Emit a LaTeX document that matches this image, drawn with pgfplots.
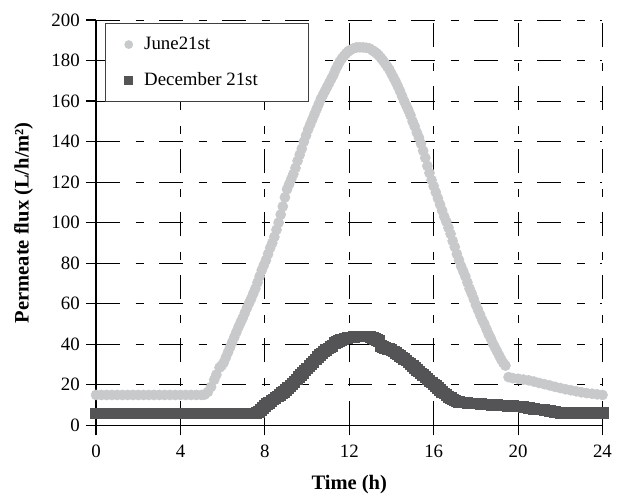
\documentclass[border=0pt]{standalone}
\usepackage{fontspec}
\setmainfont{Liberation Serif}
\usepackage{pgfplots}
\pgfplotsset{compat=1.18}
\definecolor{junec}{HTML}{C8C9CB}
\definecolor{decc}{HTML}{545456}

\pgfplotstableread{
x y
0 15
0.25 15
0.5 15
0.75 15
1 15
1.25 15
1.5 15
1.75 15
2 15
2.25 15
2.5 15
2.75 15
3 15
3.25 15
3.5 15
3.75 15
4 15
4.25 15
4.5 15
4.75 15
5 15
5.15 15.2
5.3 16.5
5.45 19
5.6 22.5
5.7 25
5.85 28.5
5.95 29.5
6.05 31
6.15 33.5
6.25 36
6.35 38.5
6.45 41
6.55 43.5
6.65 46
6.75 48.5
6.85 50.8
6.95 53
7.05 55.5
7.15 58
7.25 60.3
7.35 62.5
7.45 65
7.55 67.5
7.65 70.5
7.75 73.5
7.85 76.5
7.95 79
8.05 81.5
8.15 84.5
8.25 87.5
8.35 90
8.45 93
8.55 96.5
8.65 100
8.75 104
8.85 108
8.95 112.5
9.05 116.5
9.15 119
9.25 121.5
9.35 124
9.45 127
9.55 130.5
9.65 133.5
9.75 136.5
9.85 140
9.95 143
10.05 146
10.15 148.5
10.25 151
10.35 153.5
10.45 156
10.55 158.5
10.65 161
10.75 163
10.85 165
10.95 167
11.05 169
11.15 171
11.25 173
11.35 175.5
11.45 177.5
11.55 179.5
11.65 181
11.75 182.3
11.85 183.5
11.95 184.5
12.05 185.2
12.2 186
12.35 186.5
12.5 186.5
12.65 186.5
12.8 186.3
12.95 186
13.1 185
13.2 184.3
13.3 183.5
13.4 182.5
13.5 181.3
13.6 180
13.7 178.5
13.8 177
13.9 175.5
14.0 173.5
14.1 171.5
14.2 169.5
14.3 167.3
14.4 165
14.5 162.5
14.6 160
14.7 157.8
14.8 155.5
14.9 153
15.0 150
15.1 147.5
15.2 144.5
15.3 142
15.4 139
15.5 135.5
15.6 132
15.7 128
15.8 124.5
15.9 121
16.0 118
16.1 115
16.2 112
16.3 109
16.4 106
16.5 103
16.6 100.5
16.7 97.5
16.8 94.5
16.9 91
17.0 88
17.1 84.5
17.2 81.5
17.3 78.5
17.4 76
17.5 73.5
17.6 70.5
17.7 67.5
17.8 65
17.9 62.3
18.0 59.5
18.1 57
18.2 54.5
18.3 52
18.4 50
18.5 47.5
18.6 45
18.7 43
18.8 40.5
18.9 38.5
19.0 36.5
19.1 34.5
19.2 32.5
19.3 30.8
19.4 29.5
19.55 23.8
19.75 23.3
20.0 23
20.25 22.6
20.5 22.2
20.75 21.6
21.0 20.9
21.25 20.3
21.5 19.7
21.75 19.0
22.0 18.4
22.25 17.8
22.5 17.3
22.75 16.8
23.0 16.3
23.25 15.9
23.5 15.6
23.75 15.3
24.0 15.0
}\junedata

\pgfplotstableread{
x y
0 6
0.25 6
0.5 6
0.75 6
1 6
1.25 6
1.5 6
1.75 6
2 6
2.25 6
2.5 6
2.75 6
3 6
3.25 6
3.5 6
3.75 6
4 6
4.25 6
4.5 6
4.75 6
5 6
5.25 6
5.5 6
5.75 6
6 6
6.25 6
6.5 6
6.75 6
7 6
7.25 6
7.5 6
7.6 6.3
7.7 6.8
7.8 7.6
7.9 8.6
8.0 9.7
8.1 10.5
8.2 11.2
8.3 12
8.4 12.8
8.5 13.6
8.6 14.3
8.7 15.1
8.8 15.9
8.9 16.7
9.0 17.6
9.1 18.6
9.2 19.6
9.3 20.6
9.4 21.6
9.5 22.7
9.6 23.8
9.7 24.9
9.8 26
9.9 27.1
10.0 28.2
10.1 29.3
10.2 30.4
10.3 31.5
10.4 32.6
10.5 33.7
10.6 34.7
10.7 35.6
10.8 36.5
10.9 37.3
11.0 38
11.1 38.6
11.2 39.2
11.3 40.6
11.4 41.2
11.5 41.7
11.6 42.1
11.7 42.5
11.8 42.9
11.9 43.2
12.0 43.5
12.2 43.8
12.4 44
12.6 44
12.8 43.9
13.0 43.6
13.1 43.2
13.2 42.8
13.3 42.3
13.4 41.7
13.5 39.2
13.6 38.8
13.7 38.3
13.8 37.8
13.9 37.6
14.0 37.3
14.1 36.6
14.2 35.8
14.3 35.1
14.4 34.3
14.5 33.5
14.6 32.8
14.7 32
14.8 31.1
14.9 30.2
15.0 29.3
15.1 28.4
15.2 27.5
15.3 26.6
15.4 25.7
15.5 24.8
15.6 23.9
15.7 23
15.8 22.1
15.9 21.2
16.0 20.3
16.1 19.4
16.2 18.5
16.3 17.6
16.4 16.7
16.5 15.8
16.6 15
16.7 14.2
16.8 13.5
16.9 12.8
17.0 12.3
17.1 11.9
17.2 11.6
17.4 11.3
17.6 11.1
17.8 10.9
18.0 10.8
18.25 10.6
18.5 10.4
18.75 10.2
19.0 10.0
19.25 9.9
19.5 9.7
19.75 9.6
20.0 9.4
20.25 9.1
20.5 8.7
20.75 8.3
21.0 7.9
21.25 7.5
21.5 7.1
21.75 6.7
22.0 6.3
22.25 6.1
22.5 6.1
22.75 6.1
23.0 6.1
23.25 6.1
23.5 6.1
23.75 6.1
24.0 6.1
}\decdata

\begin{document}
\fontsize{11.3}{13}\selectfont
\begin{tikzpicture}
\begin{axis}[
  scale only axis,
  width=303.6pt, height=243pt,
  xmin=0, xmax=24, ymin=0, ymax=200,
  xtick={0,4,...,24}, ytick={0,20,...,200},
  axis x line=bottom, axis y line=left,
  axis line style={-, line width=0.8pt, black},
  every inner x axis line/.append style={-},
  every inner y axis line/.append style={-},
  every outer x axis line/.append style={-},
  every outer y axis line/.append style={-},
  tick align=outside, major tick length=6pt,
  tick style={black, line width=0.7pt},
  grid=major,
  major grid style={black, line width=0.6pt, dash pattern=on 14.4pt off 9.3pt on 4.8pt off 9.3pt},
  /pgf/number format/assume math mode=true,
  ticklabel style={font=\fontsize{11.3}{13}\selectfont, inner sep=0pt},
  xticklabel style={anchor=base, yshift=-13.2pt},
  yticklabel style={anchor=east, xshift=-3.6pt},
  xlabel={\textbf{Time (h)}},
  ylabel={\textbf{Permeate flux (L/h/m²)}},
  label style={font=\fontsize{12.3}{14}\selectfont},
  xlabel style={at={(axis description cs:0.5,-0.1457)}, anchor=center},
  ylabel style={at={(axis description cs:-0.1430,0.5)}, anchor=center},
  legend style={at={(axis description cs:0.018,0.995)}, anchor=north west,
    draw=black!75, line width=0.6pt, fill=white,
    inner xsep=11.5pt, inner ysep=6pt, row sep=8pt, column sep=5pt,
    font=\fontsize{11.3}{13}\selectfont, yshift=-0.6pt},
  legend cell align=left,
  legend image code/.code={\draw[#1, mark size=2.3pt] plot coordinates {(0pt,0pt)};},
]
\addplot[only marks, mark=*, mark size=3pt, color=junec] table {\junedata};
\addlegendentry{\makebox[85pt][l]{June21st}}
\addplot[only marks, mark=square*, mark size=3.2pt, color=decc] table {\decdata};
\addlegendentry{\makebox[85pt][l]{December 21st}}
\end{axis}
\path (current axis.south west) ++(-57.6pt,-42pt) coordinate (bl);
\path (current axis.north east) ++(9.9pt,12pt) coordinate (tr);
\pgfresetboundingbox
\path (bl) rectangle (tr);
\end{tikzpicture}
\end{document}
